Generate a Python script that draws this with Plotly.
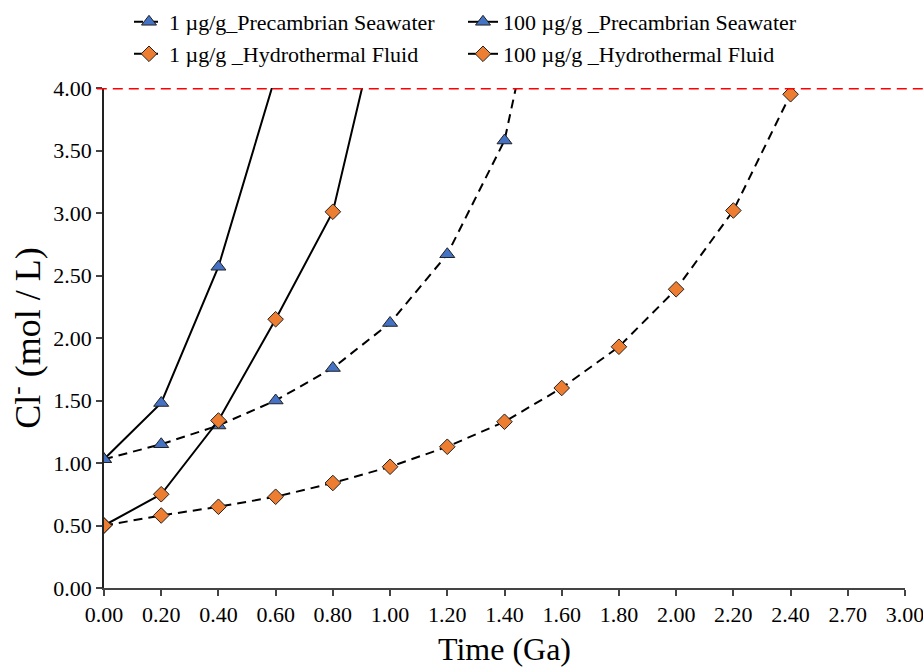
import plotly.graph_objects as go

# Category axis (Time, Ga)
time_labels = ["0.00", "0.20", "0.40", "0.60", "0.80", "1.00", "1.20", "1.40",
               "1.60", "1.80", "2.00", "2.20", "2.40", "2.70", "3.00"]

# Cl- (mol/L) values; last value in some series exceeds the 4.00 axis limit (clipped)
sw_1 = [1.03, 1.15, 1.30, 1.50, 1.76, 2.12, 2.67, 3.58, 5.70]
sw_100 = [1.03, 1.48, 2.57, 4.10]
hf_1 = [0.50, 0.58, 0.65, 0.73, 0.84, 0.97, 1.13, 1.33, 1.60, 1.93, 2.39, 3.02, 3.95]
hf_100 = [0.50, 0.75, 1.34, 2.15, 3.01, 4.95]

names = ["1 µg/g_Precambrian Seawater", "100 µg/g _Precambrian Seawater",
         "1 µg/g _Hydrothermal Fluid", "100 µg/g _Hydrothermal Fluid"]

limit = 4.0

BLUE = "#4472C4"
ORANGE = "#ED7D31"
FONT = "Liberation Serif"

fig = go.Figure()

def add(vals, name, dashed, symbol, color, legend):
    fig.add_trace(go.Scatter(
        x=time_labels[:len(vals)], y=vals, name=name, mode="lines+markers",
        line=dict(color="black", width=2, dash="9px,6px" if dashed else "solid"),
        marker=dict(symbol=symbol, size=13 if symbol == "triangle-up" else 12,
                    color=color, line=dict(color="#222222", width=1)),
        legend=legend,
    ))

add(sw_1, names[0], True, "triangle-up", BLUE, "legend")
add(sw_100, names[1], False, "triangle-up", BLUE, "legend")
add(hf_1, names[2], True, "diamond", ORANGE, "legend2")
add(hf_100, names[3], False, "diamond", ORANGE, "legend2")

fig.add_shape(type="line", xref="paper", yref="y", x0=-0.009, x1=1.03, y0=limit, y1=limit,
              line=dict(color="#FF0000", width=3, dash="10px,6px"), layer="above")

legend_common = dict(orientation="h", xanchor="left", yanchor="middle",
                     xref="container", yref="container",
                     font=dict(family=FONT, size=22, color="black"),
                     bgcolor="rgba(0,0,0,0)", entrywidth=289, entrywidthmode="pixels",
                     tracegroupgap=0, itemclick=False)

fig.update_layout(
    width=923, height=667,
    margin=dict(l=104, r=18, t=88, b=79, autoexpand=False),
    plot_bgcolor="white", paper_bgcolor="white",
    font=dict(family=FONT, color="black"),
    showlegend=True,
    legend=dict(x=129 / 923, y=1 - 22 / 667, **legend_common),
    legend2=dict(x=129 / 923, y=1 - 54 / 667, **legend_common),
    xaxis=dict(
        type="category", categoryorder="array", categoryarray=time_labels,
        range=[0, len(time_labels) - 1], automargin=False,
        tickvals=time_labels, ticktext=time_labels,
        showline=True, linecolor="#444444", linewidth=1.5,
        ticks="outside", ticklen=6, tickcolor="#444444", tickwidth=1.5,
        showgrid=False, zeroline=False,
        tickfont=dict(family=FONT, size=22, color="black"),
        title=dict(text="Time (Ga)", font=dict(family=FONT, size=32, color="black"), standoff=14),
    ),
    yaxis=dict(
        range=[0, 4.0], tickvals=[0, 0.5, 1, 1.5, 2, 2.5, 3, 3.5, 4],
        tickformat=".2f", automargin=False,
        showline=True, linecolor="#222222", linewidth=1.5,
        ticks="outside", ticklen=6, tickcolor="#444444", tickwidth=1.5,
        showgrid=False, zeroline=False,
        tickfont=dict(family=FONT, size=22, color="black"),
        title=dict(text="Cl<sup>-</sup> (mol / L)", font=dict(family=FONT, size=36, color="black"), standoff=2),
    ),
)

fig.write_html("out.html", config={"displayModeBar": False},
               post_script="document.body.style.margin='0';document.body.style.padding='0';")
